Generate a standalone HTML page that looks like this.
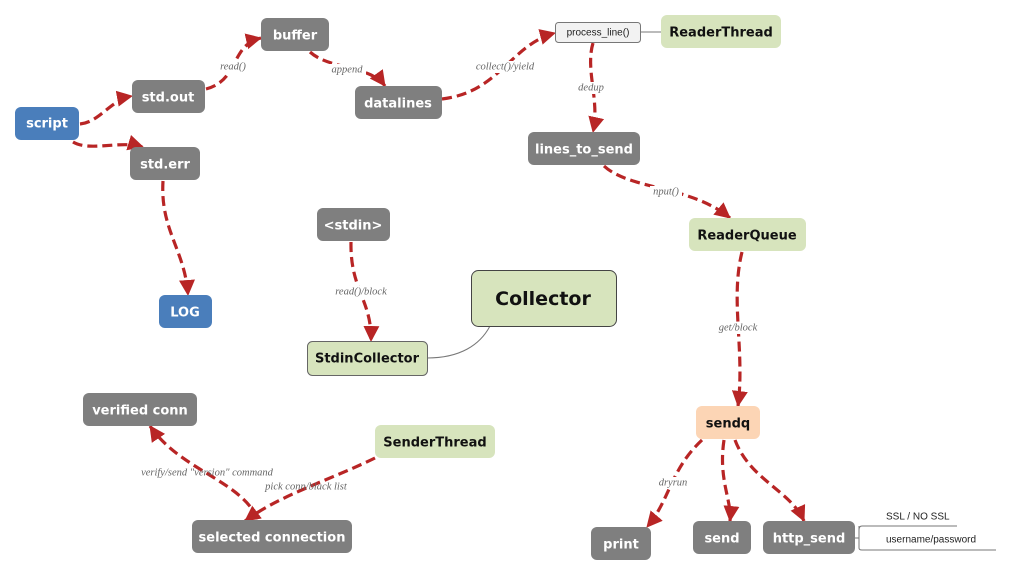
<!DOCTYPE html>
<html><head><meta charset="utf-8"><style>
html,body{margin:0;padding:0;background:#fff;}
svg{display:block;}
.n{font-family:"DejaVu Sans","Liberation Sans",sans-serif;font-weight:bold;font-size:13px;fill:#fff;text-anchor:middle;dominant-baseline:central;}
.d{fill:#111;}
.big{font-size:19px;}
.l{font-family:"Liberation Serif",serif;font-style:italic;font-size:10.5px;fill:#666;text-anchor:middle;dominant-baseline:central;}
.e{fill:none;stroke:#b82525;stroke-width:3.2;stroke-dasharray:10 5;}
</style></head><body>
<svg width="1012" height="577" viewBox="0 0 1012 577" xmlns="http://www.w3.org/2000/svg">
<defs>
<marker id="a" markerUnits="userSpaceOnUse" markerWidth="20" markerHeight="20" refX="15" refY="8" orient="auto">
<path d="M0,0 L16,8 L0,16 z" fill="#b82525"/>
</marker>
</defs>
<!-- edges -->
<path class="e" marker-end="url(#a)" d="M80,124 C100,122 110,100 132,96"/>
<path class="e" marker-end="url(#a)" d="M73,142 C90,152 120,140 143,147"/>
<path class="e" marker-end="url(#a)" d="M206,89 C240,80 230,45 261,38"/>
<path class="e" marker-end="url(#a)" d="M310,52 C330,70 370,65 385,86"/>
<path class="e" marker-end="url(#a)" d="M442,99 C500,92 510,45 555,33"/>
<path class="e" marker-end="url(#a)" d="M593,43 C585,70 600,100 593,132"/>
<path class="e" marker-end="url(#a)" d="M604,166 C630,190 690,185 730,218"/>
<path class="e" marker-end="url(#a)" d="M742,252 C730,300 745,350 738,406"/>
<path class="e" marker-end="url(#a)" d="M163,181 C160,230 185,250 188,295"/>
<path class="e" marker-end="url(#a)" d="M351,242 C350,290 372,300 371,341"/>
<path class="e" marker-end="url(#a)" d="M702,440 C670,470 670,500 647,527"/>
<path class="e" marker-end="url(#a)" d="M724,440 C718,480 732,500 730,521"/>
<path class="e" marker-end="url(#a)" d="M735,440 C750,480 790,490 804,521"/>
<path class="e" marker-end="url(#a)" d="M258,519 C240,480 180,470 150,426"/>
<path class="e" marker-end="url(#a)" d="M375,458 C330,480 280,495 245,521"/>
<!-- thin lines -->
<line x1="641" y1="32" x2="661" y2="32" stroke="#777" stroke-width="1"/>
<path d="M427,358 C460,358 480,345 490,326" fill="none" stroke="#777" stroke-width="1"/>
<path d="M855,538 L859,538 M859,526 L859,548 Q859,550 862,550 L996,550 M859,530 Q859,526 862,526 L957,526" fill="none" stroke="#777" stroke-width="1"/>
<!-- labels -->
<rect x="216" y="61" width="34" height="12" fill="#fff"/><text class="l" x="233" y="67">read()</text>
<rect x="328" y="64" width="38" height="12" fill="#fff"/><text class="l" x="347" y="70">append</text>
<rect x="470" y="61" width="70" height="12" fill="#fff"/><text class="l" x="505" y="67">collect()/yield</text>
<rect x="576" y="82" width="30" height="12" fill="#fff"/><text class="l" x="591" y="88">dedup</text>
<rect x="650" y="186" width="32" height="12" fill="#fff"/><text class="l" x="666" y="192">nput()</text>
<rect x="714" y="322" width="48" height="12" fill="#fff"/><text class="l" x="738" y="328">get/block</text>
<rect x="330" y="286" width="62" height="12" fill="#fff"/><text class="l" x="361" y="292">read()/block</text>
<rect x="655" y="477" width="36" height="12" fill="#fff"/><text class="l" x="673" y="483">dryrun</text>
<text class="l" x="207" y="473">verify/send "version" command</text>
<text class="l" x="306" y="487">pick conn/black list</text>
<!-- nodes -->
<rect x="15" y="107" width="64" height="33" rx="6" fill="#4a7ebb"/><text class="n" x="47" y="124">script</text>
<rect x="132" y="80" width="73" height="33" rx="6" fill="#7f7f7f"/><text class="n" x="168" y="98">std.out</text>
<rect x="261" y="18" width="68" height="33" rx="6" fill="#7f7f7f"/><text class="n" x="295" y="36">buffer</text>
<rect x="355" y="86" width="87" height="33" rx="6" fill="#7f7f7f"/><text class="n" x="398" y="104">datalines</text>
<rect x="130" y="147" width="70" height="33" rx="6" fill="#7f7f7f"/><text class="n" x="165" y="165">std.err</text>
<rect x="555.5" y="22.5" width="85" height="20" rx="3" fill="#f2f2f2" stroke="#777"/><text x="598" y="33" text-anchor="middle" dominant-baseline="central" font-family="Liberation Sans,sans-serif" font-size="10" fill="#222">process_line()</text>
<rect x="661" y="15" width="120" height="33" rx="6" fill="#d7e4bd"/><text class="n d" x="721" y="33">ReaderThread</text>
<rect x="528" y="132" width="112" height="33" rx="6" fill="#7f7f7f"/><text class="n" x="584" y="150">lines_to_send</text>
<rect x="689" y="218" width="117" height="33" rx="6" fill="#d7e4bd"/><text class="n d" x="747" y="236">ReaderQueue</text>
<rect x="159" y="295" width="53" height="33" rx="6" fill="#4a7ebb"/><text class="n" x="185" y="313">LOG</text>
<rect x="317" y="208" width="73" height="33" rx="6" fill="#7f7f7f"/><text class="n" x="353" y="226">&lt;stdin&gt;</text>
<rect x="307.5" y="341.5" width="120" height="34" rx="5" fill="#d7e4bd" stroke="#666"/><text class="n d" x="367" y="359">StdinCollector</text>
<rect x="471.5" y="270.5" width="145" height="56" rx="7" fill="#d7e4bd" stroke="#444"/><text class="n d big" x="543" y="299">Collector</text>
<rect x="83" y="393" width="114" height="33" rx="6" fill="#7f7f7f"/><text class="n" x="140" y="411">verified conn</text>
<rect x="375" y="425" width="120" height="33" rx="6" fill="#d7e4bd"/><text class="n d" x="435" y="443">SenderThread</text>
<rect x="192" y="520" width="160" height="33" rx="6" fill="#7f7f7f"/><text class="n" x="272" y="538">selected connection</text>
<rect x="696" y="406" width="64" height="33" rx="6" fill="#fcd5b5"/><text class="n d" x="728" y="424">sendq</text>
<rect x="591" y="527" width="60" height="33" rx="6" fill="#7f7f7f"/><text class="n" x="621" y="545">print</text>
<rect x="693" y="521" width="58" height="33" rx="6" fill="#7f7f7f"/><text class="n" x="722" y="539">send</text>
<rect x="763" y="521" width="92" height="33" rx="6" fill="#7f7f7f"/><text class="n" x="809" y="539">http_send</text>
<text x="886" y="517" font-family="Liberation Sans,sans-serif" font-size="10" fill="#222" dominant-baseline="central">SSL / NO SSL</text>
<text x="886" y="540" font-family="Liberation Sans,sans-serif" font-size="10" fill="#222" dominant-baseline="central">username/password</text>
</svg>
</body></html>
